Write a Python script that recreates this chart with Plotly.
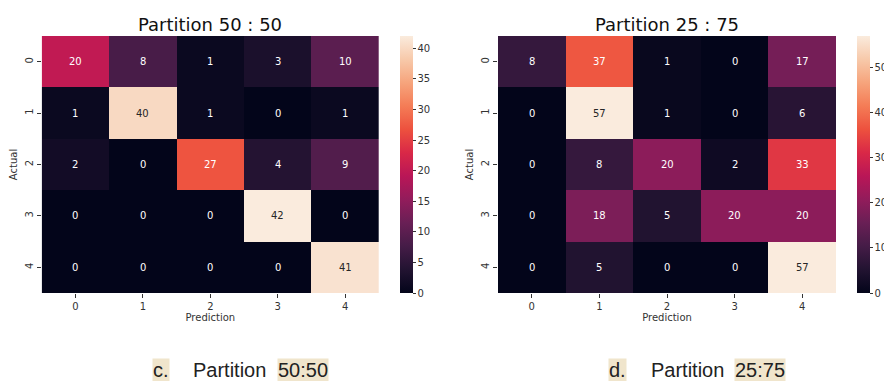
import plotly.graph_objects as go

# Confusion matrices (rows = actual class, columns = predicted class)
classes = ["0", "1", "2", "3", "4"]
cm_50_50 = [
    [20, 8, 1, 3, 10],
    [1, 40, 1, 0, 1],
    [2, 0, 27, 4, 9],
    [0, 0, 0, 42, 0],
    [0, 0, 0, 0, 41],
]
cm_25_75 = [
    [8, 37, 1, 0, 17],
    [0, 57, 1, 0, 6],
    [0, 8, 20, 2, 33],
    [0, 18, 5, 20, 20],
    [0, 5, 0, 0, 57],
]
titles = ["Partition 50 : 50", "Partition 25 : 75"]
captions = [("c.", "Partition", "50:50"), ("d.", "Partition", "25:75")]
cbar_ticks = [[0, 5, 10, 15, 20, 25, 30, 35, 40], [0, 10, 20, 30, 40, 50]]

# seaborn "rocket" palette
rocket_hex = ["#03051a", "#221331", "#451c47", "#691f55", "#921c5b", "#b91657",
              "#d92847", "#ed513e", "#f47c56", "#f6a47c", "#f7c9aa", "#faebdd"]
rocket = [[i / (len(rocket_hex) - 1), c] for i, c in enumerate(rocket_hex)]

W, H = 884, 381
px = lambda v: v / W
py = lambda v: 1 - v / H

plot_top, plot_bot = 36, 293
x_doms = [(41.7, 379), (498, 836)]
cbar_x = [400, 857]
tick_font = dict(family="DejaVu Sans", size=10, color="#333333")

fig = go.Figure()
annotations = []
for k, (cm, (x0, x1)) in enumerate(zip([cm_50_50, cm_25_75], x_doms)):
    sfx = "" if k == 0 else "2"
    ca = "coloraxis" + sfx
    zmax = max(max(r) for r in cm)
    fig.add_trace(go.Heatmap(
        z=cm, x=classes, y=classes, coloraxis=ca,
        xaxis="x" + sfx, yaxis="y" + sfx, xgap=0, ygap=0,
        hoverongaps=False,
    ))
    fig.update_layout(**{
        ca: dict(
            colorscale=rocket, cmin=0, cmax=zmax,
            colorbar=dict(
                x=px(cbar_x[k]), xanchor="left", xpad=0, thickness=13,
                len=(plot_bot - plot_top) / H, lenmode="fraction",
                y=py((plot_top + plot_bot) / 2), yanchor="middle", ypad=0,
                outlinewidth=0, ticks="outside", ticklen=3, tickwidth=1,
                tickcolor="#333333", tickvals=cbar_ticks[k],
                tickfont=tick_font,
            ),
        ),
        "xaxis" + sfx: dict(
            domain=[px(x0), px(x1)], anchor="y" + sfx,
            ticks="outside", ticklen=4, tickcolor="#333333",
            tickfont=tick_font, showgrid=False, zeroline=False,
            title=dict(text="Prediction", font=tick_font, standoff=2),
        ),
        "yaxis" + sfx: dict(
            domain=[py(plot_bot), py(plot_top)], anchor="x" + sfx,
            autorange="reversed", ticks="outside", ticklen=4,
            tickcolor="#333333", tickangle=-90, tickfont=tick_font,
            showgrid=False, zeroline=False,
            title=dict(text="Actual", font=tick_font, standoff=4),
        ),
    })
    # cell values
    for i, row in enumerate(cm):
        for j, v in enumerate(row):
            annotations.append(dict(
                x=classes[j], y=classes[i], xref="x" + sfx, yref="y" + sfx,
                text=str(v), showarrow=False,
                font=dict(family="DejaVu Sans", size=10,
                          color="#262626" if v / zmax > 0.85 else "#ffffff"),
            ))
    # panel title
    annotations.append(dict(
        x=px((x0 + x1) / 2), y=py(24), xref="paper", yref="paper",
        text=titles[k], showarrow=False, xanchor="center", yanchor="middle",
        font=dict(family="DejaVu Sans", size=18, color="#111111"),
    ))

# captions below panels
cap_x = [(152, 192, 277), (608, 650, 734)]
hl = "#f0e5cc"
cap_font = dict(family="Liberation Sans", size=20, color="#222222")
for (lab, word, part), (xa, xb, xc) in zip(captions, cap_x):
    for txt, xx, bg in [(lab, xa, hl), (word, xb, None), (part, xc, hl)]:
        annotations.append(dict(
            x=px(xx), y=py(370), xref="paper", yref="paper", text=txt,
            showarrow=False, xanchor="left", yanchor="middle",
            font=cap_font, bgcolor=bg, borderpad=0,
        ))

fig.update_layout(
    width=W, height=H,
    margin=dict(l=0, r=0, t=0, b=0, autoexpand=False),
    paper_bgcolor="white", plot_bgcolor="white",
    annotations=annotations, showlegend=False,
)
fig.write_html("out.html")
